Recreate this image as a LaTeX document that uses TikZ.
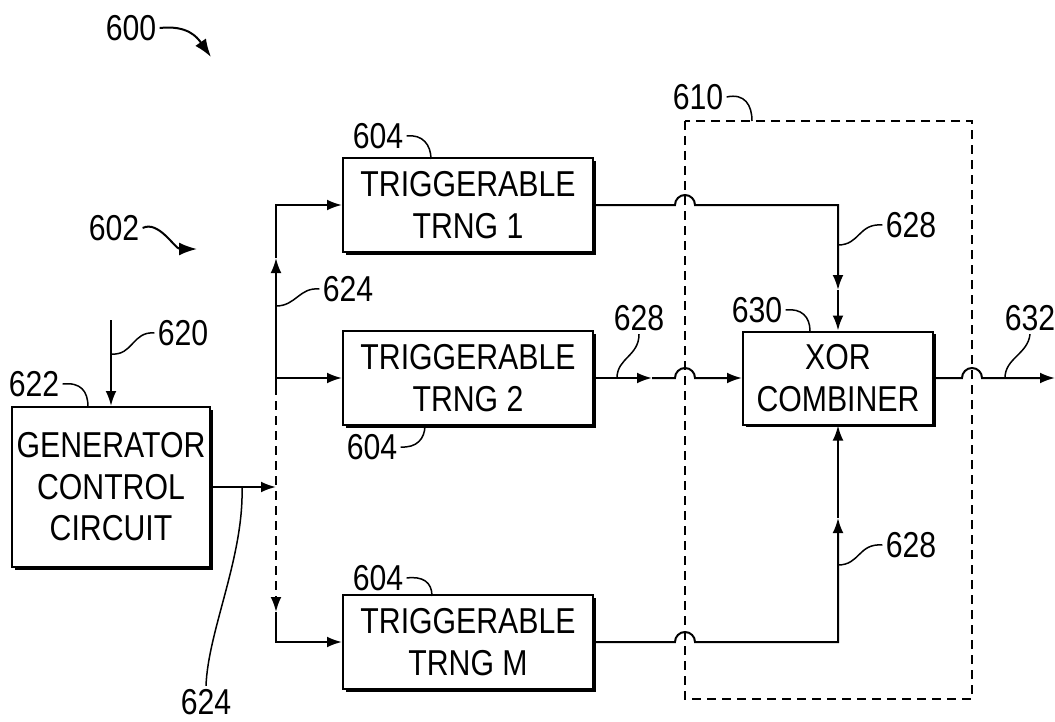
\documentclass[tikz,border=0pt]{standalone}
\usepackage{fontspec}
\setmainfont{Liberation Sans}[FakeStretch=0.84]
\usetikzlibrary{arrows.meta,shadows}

\begin{document}
\begin{tikzpicture}[
  x=0.5pt,
  y=-0.5pt,
  >={Latex[length=7.5pt,width=5.4pt]},
  blk/.style={
    draw=black,
    fill=white,
    line width=1pt,
    inner sep=0pt,
    align=center,
    font=\fontsize{18}{20.8}\selectfont,
    drop shadow={shadow xshift=1.4pt,shadow yshift=-1.4pt,fill=black,opacity=1}
  },
  trng/.style={
    blk,
    minimum width=125pt,
    minimum height=47pt
  },
  lbl/.style={
    inner sep=1.5pt,
    font=\fontsize{18}{20}\selectfont
  },
  conn/.style={
    draw=black,
    line width=1pt
  },
  leader/.style={
    draw=black,
    line width=0.75pt
  },
  border/.style={
    draw=black,
    line width=1pt,
    dash pattern=on 4.5pt off 3pt
  }
]
\useasboundingbox (0,0) rectangle (1055,722);

% blocks
\node[blk,minimum width=99pt,minimum height=80pt] (gcc) at (111,487)
  {GENERATOR\\CONTROL\\CIRCUIT};
\node[trng] (trng1) at (468,205) {TRIGGERABLE\\TRNG 1};
\node[trng] (trng2) at (468,378) {TRIGGERABLE\\TRNG 2};
\node[trng] (trngm) at (468,642) {TRIGGERABLE\\TRNG M};
\node[blk,minimum width=95pt,minimum height=46.5pt] (xor) at (838,378)
  {XOR\\COMBINER};

% dashed boundary 610
\coordinate (dtl) at (685,121);
\coordinate (dbr) at (972,699);
\draw[border] (dtl) rectangle (dbr);

% control input and bus
\coordinate (in620) at (111,320);
\draw[conn,->] (in620) -- (gcc.north);

\coordinate (bustop) at (276,205);
\coordinate (busup) at (276,258);
\coordinate (bus2) at (276,378);
\coordinate (busdash) at (276,386);
\coordinate (busgcc) at (276,487);
\coordinate (busdown) at (276,612);
\coordinate (busbot) at (276,642);

\draw[conn,->] (gcc.east) -- (busgcc);
\draw[conn,->] (busdash) -- (busup);
\draw[conn,->] (busup) -- (bustop) -- (trng1.west);
\draw[conn,->] (bus2) -- (trng2.west);
\draw[border,->] (busdash) -- (busdown);
\draw[conn,->] (busdown) -- (busbot) -- (trngm.west);

% generator outputs
\coordinate (hop1) at (675,205);
\coordinate (hop2) at (675,378);
\coordinate (hop3) at (675,642);
\coordinate (hop4) at (962,378);
\coordinate (mid1) at (838,290);
\coordinate (mid2) at (652,378);
\coordinate (midm) at (838,518);
\coordinate (out) at (1055,378);

\draw[conn,->] (trng1.east) -- (hop1) arc[start angle=180,end angle=0,radius=5pt] -| (mid1);
\draw[conn,->] (mid1) -- (xor.north);
\draw[conn,->] (trng2.east) -- (mid2);
\draw[conn,->] (mid2) -- (hop2) arc[start angle=180,end angle=0,radius=5pt] -- (xor.west);
\draw[conn,->] (trngm.east) -- (hop3) arc[start angle=180,end angle=0,radius=5pt] -| (midm);
\draw[conn,->] (midm) -- (xor.south);
\draw[conn,->] (xor.east) -- (hop4) arc[start angle=180,end angle=0,radius=5pt] -- (out);

% reference numerals
\node[lbl] (l600) at (131,28) {600};
\node[lbl] (l602) at (114,228) {602};
\node[lbl] (l622) at (34,384) {622};
\node[lbl] (l620) at (183,333) {620};
\node[lbl] (l624a) at (348,289) {624};
\node[lbl] (l624b) at (206,702) {624};
\node[lbl] (l604a) at (378,136) {604};
\node[lbl] (l604b) at (372,447) {604};
\node[lbl] (l604c) at (378,578) {604};
\node[lbl] (l610) at (698,97) {610};
\node[lbl] (l630) at (757,310) {630};
\node[lbl] (l628a) at (911,225) {628};
\node[lbl] (l628b) at (639,318) {628};
\node[lbl] (l628c) at (911,545) {628};
\node[lbl] (l632) at (1030,318) {632};

\draw[leader,line width=1pt,->,>={Latex[length=9pt,width=6.5pt]}]
  (l600.east) .. controls +(28,-3) and +(-14,-20) .. (211,57);
\draw[leader,line width=1pt,->,>={Latex[length=9pt,width=6.5pt]}]
  (l602.east) .. controls +(16,-8) and +(-22,0) .. (197,249);
\draw[leader] (l622.east) .. controls +(18,-2) and +(0,-16) .. (88,407);
\draw[leader] (l620.west) .. controls +(-22,-2) and +(22,2) .. (111,354);
\draw[leader] (l624a.west) .. controls +(-20,-2) and +(20,0) .. (276,306);
\draw[leader] (l624b.north) .. controls +(2,-55) and +(2,70) .. (242,487);
\draw[leader] (l604a.east) .. controls +(16,-2) and +(0,-14) .. (431,159);
\draw[leader] (l604b.east) .. controls +(16,1) and +(0,14) .. (425,425);
\draw[leader] (l604c.east) .. controls +(16,-2) and +(0,-14) .. (432,596);
\draw[leader] (l610.east) .. controls +(18,-4) and +(0,-16) .. (752,121);
\draw[leader] (l630.east) .. controls +(16,-2) and +(0,-14) .. (810,331);
\draw[leader] (l628a.west) .. controls +(-24,-2) and +(22,0) .. (838,245);
\draw[leader] (l628b.south) .. controls +(0,22) and +(0,-20) .. (617,378);
\draw[leader] (l628c.west) .. controls +(-24,-2) and +(22,0) .. (838,565);
\draw[leader] (l632.south) .. controls +(-2,20) and +(0,-20) .. (1005,378);

\end{tikzpicture}
\end{document}
